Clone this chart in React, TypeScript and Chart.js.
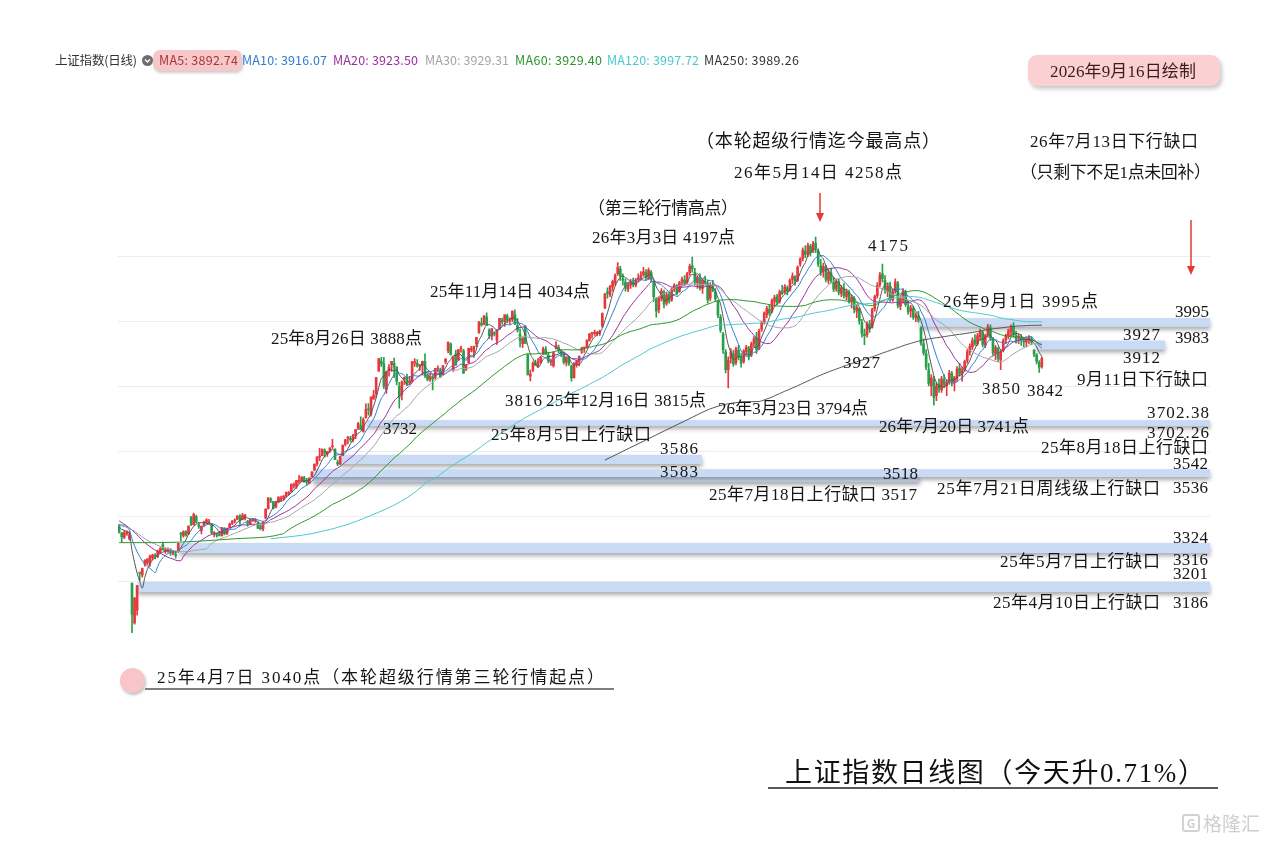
import React, { useEffect, useRef } from 'react';
import { Chart, registerables } from 'chart.js';

Chart.register(...registerables);

// index of the first candle (2025-03-28); 0 = 2025-04-07
const firstIndex = -5;

const opens = [
  3370, 3348, 3334, 3346, 3330,
  3193, 3071, 3110, 3225, 3219, 3252, 3256, 3255, 3272, 3278,
  3276, 3289, 3312, 3290, 3290, 3291, 3283, 3282, 3290, 3345,
  3339, 3351, 3345, 3395, 3373, 3398, 3373, 3355, 3371, 3380,
  3379, 3374, 3345, 3343, 3345, 3340, 3360, 3345, 3365, 3377,
  3385, 3390, 3400, 3390, 3396, 3381, 3376, 3386, 3385, 3379,
  3367, 3361, 3394, 3423, 3453, 3444, 3428, 3443, 3452, 3454,
  3462, 3468, 3474, 3493, 3491, 3506, 3508, 3518, 3505, 3500,
  3520, 3542, 3560, 3581, 3586, 3601, 3591, 3601, 3613, 3606,
  3565, 3561, 3586, 3620, 3639, 3637, 3634, 3647, 3670, 3678,
  3660, 3702, 3730, 3714, 3760, 3776, 3846, 3877, 3869, 3789,
  3847, 3866, 3870, 3858, 3799, 3774, 3822, 3827, 3811, 3815,
  3871, 3870, 3862, 3863, 3876, 3834, 3820, 3828, 3826, 3852,
  3850, 3834, 3874, 3909, 3929, 3850, 3899, 3880, 3914, 3908,
  3852, 3872, 3911, 3905, 3930, 3964, 3993, 3990, 4012, 3972,
  3953, 3962, 3941, 3975, 3999, 3999, 4016, 4000, 4004, 4020,
  3986, 3960, 3930, 3985, 3895, 3830, 3849, 3870, 3862, 3874,
  3897, 3912, 3895, 3875, 3862, 3915, 3918, 3905, 3898, 3873,
  3890, 3862, 3826, 3867, 3875, 3904, 3917, 3920, 3941, 3962,
  3960, 3962, 3962, 3985, 4040, 4090, 4080, 4105, 4118, 4145,
  4160, 4130, 4120, 4098, 4110, 4120, 4110, 4128, 4130, 4142,
  4150, 4130, 4150, 4120, 4068, 4035, 4070, 4088, 4055, 4082,
  4065, 4098, 4108, 4090, 4120, 4126, 4118, 4148, 4170, 4150,
  4118, 4130, 4100, 4122, 4115, 4070, 4108, 4090, 4060, 4012,
  3960, 3905, 3850, 3885, 3900, 3872, 3910, 3885, 3875, 3905,
  3915, 3895, 3930, 3950, 3915, 3975, 3998, 4020, 4035, 4030,
  4060, 4075, 4060, 4092, 4088, 4102, 4095, 4128, 4135, 4125,
  4175, 4192, 4215, 4205, 4230, 4215, 4240, 4215, 4170, 4155,
  4165, 4125, 4148, 4120, 4100, 4120, 4085, 4100, 4075, 4088,
  4060, 4070, 4030, 4038, 3995, 3960, 3958, 3992, 3980, 4038,
  4078, 4112, 4145, 4125, 4090, 4105, 4065, 4092, 4115, 4045,
  4065, 4090, 4045, 4030, 4038, 4010, 4015, 3978, 3930, 3900,
  3850, 3800, 3820, 3770, 3805, 3788, 3820, 3800, 3815, 3838,
  3810, 3822, 3855, 3840, 3850, 3878, 3905, 3920, 3942, 3930,
  3952, 3965, 3925, 3958, 3980, 3945, 3900, 3915, 3880, 3910,
  3942, 3955, 3968, 3982, 3955, 3948, 3950, 3938, 3935, 3940,
  3945, 3910, 3895, 3872, 3860,
];

const highs = [
  3374, 3350, 3355, 3354, 3352,
  3194, 3150, 3187, 3226, 3240, 3266, 3268, 3280, 3283, 3284,
  3295, 3303, 3320, 3302, 3302, 3300, 3292, 3291, 3316, 3350,
  3354, 3355, 3370, 3399, 3409, 3403, 3380, 3370, 3384, 3391,
  3390, 3377, 3352, 3347, 3353, 3365, 3364, 3363, 3378, 3386,
  3391, 3401, 3404, 3408, 3405, 3387, 3389, 3391, 3392, 3383,
  3371, 3382, 3422, 3457, 3456, 3445, 3446, 3459, 3461, 3463,
  3474, 3475, 3498, 3502, 3510, 3525, 3521, 3522, 3516, 3518,
  3537, 3560, 3582, 3608, 3606, 3607, 3599, 3610, 3636, 3607,
  3571, 3584, 3618, 3636, 3645, 3645, 3651, 3666, 3688, 3705,
  3702, 3745, 3746, 3767, 3787, 3826, 3884, 3888, 3888, 3845,
  3866, 3876, 3886, 3859, 3811, 3816, 3828, 3837, 3830, 3876,
  3884, 3881, 3867, 3877, 3899, 3838, 3837, 3832, 3854, 3862,
  3855, 3863, 3884, 3936, 3933, 3890, 3910, 3913, 3923, 3913,
  3865, 3917, 3922, 3923, 3950, 3999, 4010, 4017, 4025, 3976,
  3977, 3965, 3974, 4008, 4009, 4019, 4021, 4010, 4031, 4034,
  4008, 3976, 3949, 3985, 3900, 3849, 3874, 3880, 3885, 3891,
  3920, 3921, 3904, 3883, 3905, 3937, 3926, 3912, 3905, 3890,
  3891, 3864, 3872, 3880, 3893, 3920, 3920, 3942, 3962, 3965,
  3972, 3968, 3972, 4025, 4085, 4102, 4110, 4126, 4145, 4180,
  4168, 4145, 4130, 4118, 4128, 4132, 4131, 4145, 4152, 4165,
  4158, 4163, 4155, 4124, 4072, 4075, 4100, 4095, 4088, 4090,
  4102, 4115, 4112, 4122, 4135, 4140, 4150, 4175, 4197, 4162,
  4140, 4145, 4130, 4138, 4125, 4118, 4125, 4100, 4062, 4020,
  3965, 3912, 3890, 3915, 3910, 3920, 3925, 3900, 3912, 3925,
  3922, 3935, 3952, 3965, 3975, 4000, 4028, 4045, 4050, 4068,
  4080, 4082, 4095, 4110, 4112, 4108, 4130, 4148, 4140, 4170,
  4195, 4225, 4232, 4240, 4236, 4245, 4258, 4222, 4190, 4178,
  4172, 4160, 4162, 4135, 4130, 4128, 4110, 4115, 4098, 4095,
  4080, 4075, 4050, 4040, 4005, 3975, 3998, 4002, 4040, 4080,
  4118, 4150, 4175, 4140, 4115, 4120, 4098, 4130, 4122, 4075,
  4100, 4095, 4062, 4048, 4045, 4025, 4030, 3983, 3945, 3912,
  3870, 3835, 3830, 3810, 3822, 3830, 3835, 3820, 3848, 3845,
  3830, 3860, 3870, 3858, 3880, 3912, 3930, 3948, 3958, 3962,
  3975, 3970, 3960, 3990, 3988, 3950, 3925, 3920, 3910, 3945,
  3960, 3975, 3988, 3995, 3968, 3960, 3958, 3950, 3948, 3955,
  3952, 3912, 3900, 3878, 3890,
];

const lows = [
  3347, 3320, 3330, 3340, 3326,
  3041, 3067, 3095, 3201, 3212, 3246, 3250, 3245, 3265, 3268,
  3272, 3285, 3295, 3285, 3288, 3279, 3280, 3270, 3288, 3324,
  3335, 3338, 3343, 3370, 3372, 3378, 3362, 3345, 3368, 3376,
  3375, 3346, 3336, 3335, 3338, 3338, 3342, 3343, 3364, 3373,
  3379, 3389, 3374, 3388, 3388, 3369, 3373, 3383, 3380, 3361,
  3357, 3354, 3392, 3421, 3441, 3422, 3425, 3440, 3446, 3449,
  3458, 3465, 3474, 3486, 3485, 3500, 3505, 3504, 3495, 3499,
  3520, 3540, 3554, 3570, 3586, 3581, 3583, 3596, 3608, 3573,
  3555, 3558, 3586, 3616, 3622, 3629, 3628, 3638, 3666, 3666,
  3658, 3702, 3710, 3707, 3759, 3765, 3846, 3860, 3792, 3777,
  3830, 3845, 3826, 3803, 3732, 3757, 3804, 3801, 3808, 3812,
  3860, 3858, 3848, 3834, 3826, 3816, 3814, 3788, 3821, 3844,
  3826, 3834, 3868, 3902, 3895, 3845, 3863, 3878, 3904, 3838,
  3847, 3870, 3905, 3888, 3921, 3962, 3984, 3988, 3986, 3946,
  3942, 3954, 3928, 3975, 3990, 3983, 3994, 3990, 3998, 3989,
  3966, 3920, 3918, 3931, 3833, 3816, 3844, 3863, 3858, 3870,
  3897, 3897, 3871, 3863, 3858, 3913, 3902, 3890, 3867, 3862,
  3863, 3815, 3824, 3858, 3862, 3900, 3903, 3917, 3938, 3947,
  3956, 3954, 3956, 3980, 4038, 4070, 4075, 4092, 4110, 4140,
  4125, 4110, 4092, 4090, 4100, 4105, 4105, 4120, 4128, 4138,
  4125, 4128, 4120, 4060, 4012, 4025, 4062, 4040, 4048, 4055,
  4060, 4090, 4080, 4088, 4112, 4110, 4116, 4140, 4150, 4110,
  4100, 4095, 4085, 4110, 4055, 4062, 4090, 4060, 4010, 3965,
  3900, 3840, 3794, 3870, 3860, 3865, 3880, 3858, 3870, 3895,
  3880, 3890, 3920, 3900, 3912, 3968, 3990, 4010, 4018, 4025,
  4045, 4050, 4055, 4080, 4085, 4080, 4092, 4115, 4110, 4122,
  4168, 4185, 4195, 4198, 4200, 4210, 4210, 4168, 4140, 4135,
  4120, 4115, 4118, 4090, 4092, 4080, 4075, 4070, 4065, 4055,
  4040, 4025, 4010, 3990, 3950, 3927, 3950, 3965, 3978, 4030,
  4070, 4105, 4120, 4085, 4075, 4060, 4060, 4085, 4040, 4035,
  4055, 4045, 4020, 4012, 4005, 3998, 3996, 3925, 3895, 3850,
  3800, 3770, 3741, 3755, 3780, 3780, 3795, 3770, 3805, 3800,
  3785, 3815, 3830, 3815, 3845, 3870, 3895, 3912, 3925, 3925,
  3940, 3920, 3918, 3950, 3940, 3895, 3880, 3875, 3850, 3905,
  3930, 3945, 3955, 3950, 3932, 3930, 3925, 3920, 3920, 3930,
  3927, 3890, 3868, 3842, 3855,
];

const closes = [
  3351, 3336, 3348, 3350, 3342,
  3097, 3146, 3186, 3224, 3238, 3263, 3268, 3277, 3280, 3277,
  3291, 3300, 3296, 3297, 3295, 3288, 3287, 3279, 3316, 3343,
  3352, 3342, 3369, 3375, 3404, 3381, 3368, 3368, 3381, 3388,
  3380, 3348, 3347, 3341, 3340, 3364, 3348, 3362, 3376, 3384,
  3385, 3400, 3385, 3402, 3403, 3377, 3389, 3387, 3389, 3362,
  3360, 3382, 3421, 3456, 3449, 3424, 3444, 3458, 3455, 3461,
  3472, 3473, 3498, 3493, 3510, 3510, 3520, 3505, 3504, 3517,
  3535, 3560, 3582, 3582, 3606, 3594, 3598, 3610, 3616, 3573,
  3560, 3583, 3618, 3634, 3640, 3635, 3648, 3666, 3684, 3666,
  3697, 3728, 3727, 3766, 3771, 3826, 3884, 3868, 3800, 3844,
  3858, 3876, 3858, 3814, 3766, 3813, 3827, 3807, 3812, 3875,
  3871, 3861, 3862, 3876, 3832, 3820, 3829, 3822, 3854, 3853,
  3828, 3863, 3883, 3934, 3897, 3890, 3865, 3912, 3916, 3840,
  3864, 3916, 3914, 3922, 3950, 3997, 3988, 4016, 3987, 3955,
  3977, 3960, 3969, 4008, 3998, 4019, 4003, 4000, 4030, 3991,
  3972, 3940, 3947, 3931, 3835, 3837, 3870, 3864, 3875, 3889,
  3914, 3898, 3878, 3876, 3903, 3924, 3910, 3901, 3873, 3889,
  3868, 3825, 3870, 3876, 3891, 3917, 3920, 3941, 3960, 3964,
  3965, 3965, 3969, 4023, 4083, 4085, 4106, 4121, 4140, 4165,
  4138, 4126, 4101, 4112, 4118, 4114, 4125, 4133, 4140, 4151,
  4135, 4157, 4128, 4075, 4030, 4070, 4092, 4052, 4080, 4062,
  4098, 4110, 4086, 4118, 4128, 4116, 4145, 4168, 4160, 4120,
  4135, 4102, 4125, 4118, 4065, 4110, 4095, 4068, 4018, 3972,
  3912, 3850, 3880, 3905, 3868, 3915, 3888, 3870, 3908, 3920,
  3890, 3930, 3945, 3912, 3970, 3995, 4024, 4038, 4025, 4062,
  4072, 4058, 4090, 4085, 4105, 4092, 4126, 4138, 4122, 4165,
  4190, 4218, 4205, 4232, 4210, 4238, 4225, 4175, 4150, 4168,
  4128, 4150, 4125, 4098, 4122, 4088, 4102, 4078, 4090, 4062,
  4072, 4035, 4042, 4000, 3962, 3955, 3990, 3975, 4035, 4075,
  4110, 4142, 4130, 4095, 4108, 4068, 4090, 4120, 4048, 4068,
  4092, 4050, 4028, 4040, 4012, 4018, 4002, 3932, 3902, 3858,
  3808, 3825, 3765, 3800, 3790, 3822, 3805, 3812, 3840, 3812,
  3825, 3852, 3838, 3850, 3875, 3905, 3922, 3940, 3932, 3955,
  3968, 3928, 3955, 3982, 3948, 3902, 3918, 3885, 3905, 3940,
  3955, 3970, 3980, 3958, 3945, 3952, 3940, 3935, 3942, 3950,
  3935, 3898, 3876, 3858, 3885,
];

const ma5Early = [[-5, 3366], [-4, 3359], [-3, 3356], [-2, 3352]];
const ma10Early = [[-5, 3375], [-1, 3357], [0, 3330], [1, 3308], [2, 3290], [3, 3275]];
const ma20Early = [[-5, 3385], [0, 3357], [5, 3318], [10, 3290], [13, 3277]];
const ma30Early = [[-5, 3372], [0, 3358], [5, 3330], [10, 3310], [15, 3296], [20, 3290], [23, 3292]];
const ma60Early = [[-5, 3318], [10, 3318], [25, 3322], [40, 3330], [53, 3336]];
const ma120Early = [[54, 3330], [70, 3346], [90, 3392], [113, 3492]];
const ma250Early = [[184, 3572], [200, 3634], [215, 3692], [228, 3738], [243, 3752]];

// price gaps (index range and price range)
const gapBands = [
  { from: 306.6, to: 419.5, lo: 3982, hi: 4009 },
  { from: 352, to: 402, lo: 3912, hi: 3940 },
  { from: 91.5, to: 419.5, lo: 3677, hi: 3695 },
  { from: 81, to: 221.8, lo: 3560, hi: 3588 },
  { from: 70.5, to: 306.6, lo: 3505, hi: 3523 },
  { from: 70.5, to: 419.5, lo: 3520, hi: 3544 },
  { from: 18.5, to: 419.5, lo: 3286, hi: 3317 },
  { from: 2.3, to: 419.5, lo: 3166, hi: 3197 },
];

const legendTexts = ['MA5: 3892.74', 'MA10: 3916.07', 'MA20: 3923.50', 'MA30: 3929.31', 'MA60: 3929.40', 'MA120: 3997.72', 'MA250: 3989.26'];
const maColors = ['#555555', '#2f7fd0', '#9b2f9b', '#a5a5a5', '#2a962a', '#4cc9cf', '#555555'];
const legendTextColors = ['#a33a36', '#2f7fd0', '#9b2f9b', '#a5a5a5', '#2a962a', '#4cc9cf', '#333333'];
const legendLeft = [159, 242, 333, 425, 515, 607, 704];
const legendWidth = [79, 85, 85, 84, 87, 92, 95];

const annotations = [
  { text: '（本轮超级行情迄今最高点）', x: 696, y: 141, w: 244, size: 18 },
  { text: '26年5月14日 4258点', x: 734, y: 172, w: 168, size: 17 },
  { text: '（第三轮行情高点）', x: 588, y: 208, w: 150, size: 17 },
  { text: '26年3月3日 4197点', x: 592, y: 237, w: 143, size: 17 },
  { text: '26年7月13日下行缺口', x: 1030, y: 141, w: 168, size: 17 },
  { text: '（只剩下不足1点未回补）', x: 1020, y: 172, w: 191, size: 17 },
  { text: '4175', x: 868, y: 245, w: 40, size: 17 },
  { text: '25年11月14日 4034点', x: 430, y: 291, w: 160, size: 17 },
  { text: '25年8月26日 3888点', x: 271, y: 338, w: 151, size: 17 },
  { text: '26年9月1日 3995点', x: 943, y: 301, w: 155, size: 17 },
  { text: '3995', x: 1175, y: 311, w: 34, size: 17 },
  { text: '3927', x: 1123, y: 334, w: 37, size: 17 },
  { text: '3983', x: 1175, y: 337, w: 34, size: 17 },
  { text: '3912', x: 1123, y: 357, w: 37, size: 17 },
  { text: '3927', x: 843, y: 362, w: 37, size: 17 },
  { text: '9月11日下行缺口', x: 1077, y: 379, w: 131, size: 17 },
  { text: '3850', x: 982, y: 388, w: 38, size: 17 },
  { text: '3842', x: 1027, y: 390, w: 36, size: 17 },
  { text: '3816', x: 505, y: 400, w: 37, size: 17 },
  { text: '25年12月16日 3815点', x: 546, y: 400, w: 160, size: 17 },
  { text: '26年3月23日 3794点', x: 718, y: 408, w: 150, size: 17 },
  { text: '3702.38', x: 1147, y: 412, w: 62, size: 17 },
  { text: '3732', x: 383, y: 428, w: 34, size: 17 },
  { text: '25年8月5日上行缺口', x: 491, y: 434, w: 160, size: 17 },
  { text: '26年7月20日 3741点', x: 879, y: 426, w: 150, size: 17 },
  { text: '3702.26', x: 1147, y: 432, w: 62, size: 17 },
  { text: '25年8月18日上行缺口', x: 1041, y: 447, w: 167, size: 17 },
  { text: '3586', x: 660, y: 448, w: 38, size: 17 },
  { text: '3542', x: 1173, y: 463, w: 35, size: 17 },
  { text: '3583', x: 660, y: 471, w: 38, size: 17 },
  { text: '3518', x: 883, y: 473, w: 35, size: 17 },
  { text: '25年7月18日上行缺口 3517', x: 709, y: 494, w: 208, size: 17 },
  { text: '25年7月21日周线级上行缺口', x: 937, y: 488, w: 223, size: 17 },
  { text: '3536', x: 1173, y: 487, w: 35, size: 17 },
  { text: '3324', x: 1173, y: 537, w: 35, size: 17 },
  { text: '25年5月7日上行缺口', x: 1000, y: 561, w: 160, size: 17 },
  { text: '3316', x: 1173, y: 559, w: 35, size: 17 },
  { text: '3201', x: 1173, y: 573, w: 35, size: 17 },
  { text: '25年4月10日上行缺口', x: 993, y: 602, w: 167, size: 17 },
  { text: '3186', x: 1173, y: 602, w: 35, size: 17 },
];

const SERIF = '"Liberation Serif", "Noto Sans CJK SC", serif';
const SANS = '"Noto Sans CJK SC", "Noto Sans", sans-serif';
const upColor = '#e8383d';
const downColor = '#27a04a';

let measureCtx: CanvasRenderingContext2D | null = null;
function spacingFor(text: string, size: number, family: string, target: number) {
  if (!measureCtx) measureCtx = document.createElement('canvas').getContext('2d');
  if (!measureCtx) return 0;
  measureCtx.font = `${size}px ${family}`;
  const w = measureCtx.measureText(text).width;
  const n = Array.from(text).length;
  return n > 1 ? (target - w) / (n - 1) : 0;
}

function movingAverage(n: number, early: number[][]) {
  const pts = early.map(([x, y]) => ({ x, y }));
  let sum = 0;
  for (let k = 0; k < closes.length; k++) {
    sum += closes[k];
    if (k >= n) sum -= closes[k - n];
    if (k >= n - 1) pts.push({ x: firstIndex + k, y: sum / n });
  }
  return pts;
}

function Label({ text, x, y, w, size, family = SERIF, color = '#151515', weight = 400 }: any) {
  const ls = spacingFor(text, size, family, w);
  return (
    <div
      style={{
        position: 'absolute', left: x, top: y, transform: 'translateY(-50%)',
        fontFamily: family, fontSize: size, lineHeight: 1, letterSpacing: ls,
        whiteSpace: 'nowrap', color, fontWeight: weight,
      }}
    >
      {text}
    </div>
  );
}

export default function App() {
  const canvasRef = useRef<HTMLCanvasElement | null>(null);

  useEffect(() => {
    const idx = closes.map((_, k) => firstIndex + k);
    const colors = closes.map((c, k) => (c >= opens[k] ? upColor : downColor));

    const bandPlugin = {
      id: 'gapBands',
      beforeDatasetsDraw(chart: any) {
        const { ctx } = chart;
        const xs = chart.scales.x;
        const ys = chart.scales.y;
        ctx.save();
        gapBands.forEach((b) => {
          const x1 = xs.getPixelForValue(b.from);
          const x2 = xs.getPixelForValue(b.to);
          const y1 = ys.getPixelForValue(b.hi);
          const y2 = ys.getPixelForValue(b.lo);
          ctx.shadowColor = 'rgba(70,70,70,0.45)';
          ctx.shadowBlur = 4;
          ctx.shadowOffsetY = 3;
          ctx.fillStyle = '#c9daf5';
          ctx.fillRect(x1, y1, x2 - x1, y2 - y1);
        });
        ctx.restore();
      },
    };

    const line = (label: string, data: any[], color: string) => ({
      type: 'line', label, data, borderColor: color, borderWidth: 1, pointRadius: 0,
      fill: false, cubicInterpolationMode: 'monotone', order: 0,
    });

    const chart = new Chart(canvasRef.current as HTMLCanvasElement, {
      type: 'bar',
      data: {
        datasets: [
          line('MA250', movingAverage(250, ma250Early), maColors[6]),
          line('MA120', movingAverage(120, ma120Early), maColors[5]),
          line('MA60', movingAverage(60, ma60Early), maColors[4]),
          line('MA30', movingAverage(30, ma30Early), maColors[3]),
          line('MA20', movingAverage(20, ma20Early), maColors[2]),
          line('MA10', movingAverage(10, ma10Early), maColors[1]),
          line('MA5', movingAverage(5, ma5Early), maColors[0]),
          {
            type: 'bar', label: 'wick',
            data: idx.map((i, k) => ({ x: i, y: [lows[k], highs[k]] })),
            backgroundColor: colors, barThickness: 1, grouped: false, order: 2,
          },
          {
            type: 'bar', label: 'body',
            data: idx.map((i, k) => ({ x: i, y: [opens[k], closes[k]] })),
            backgroundColor: colors, barThickness: 2, minBarLength: 1, grouped: false, order: 1,
          },
        ] as any,
      },
      options: {
        animation: false,
        responsive: false,
        devicePixelRatio: 1,
        events: [],
        layout: { padding: { left: 118, right: 63, top: 191, bottom: 165.5 } },
        plugins: { legend: { display: false }, tooltip: { enabled: false } },
        scales: {
          x: { type: 'linear', min: -5.447, max: 419.45, offset: false, display: false, grid: { display: false } },
          y: {
            type: 'linear', min: 2900, max: 4400, display: true,
            border: { display: false },
            ticks: { display: false, stepSize: 200 },
            grid: {
              drawTicks: false,
              color: (c: any) => {
                const v = c.tick ? c.tick.value : 0;
                return v >= 3200 && v <= 4200 && v % 200 === 0 ? '#ececec' : 'rgba(0,0,0,0)';
              },
            },
            afterFit: (s: any) => { s.width = 0; },
          },
        },
      } as any,
      plugins: [bandPlugin],
    } as any);
    return () => chart.destroy();
  }, []);

  return (
    <div style={{ position: 'fixed', left: 0, top: 0, width: 1273, height: 844, background: '#ffffff', overflow: 'hidden' }}>
      <canvas ref={canvasRef} width={1273} height={844} style={{ position: 'absolute', left: 0, top: 0, width: 1273, height: 844 }} />

      {/* top legend */}
      <Label text="上证指数(日线)" x={55} y={60} w={82} size={12.5} family={SANS} color="#333333" />
      <div style={{ position: 'absolute', left: 142, top: 55, width: 11, height: 11, borderRadius: '50%', background: '#6d6d6d' }}>
        <svg width="11" height="11" style={{ position: 'absolute', left: 0, top: 0 }}>
          <polyline points="3,4.5 5.5,7 8,4.5" fill="none" stroke="#fff" strokeWidth="1.4" />
        </svg>
      </div>
      <div style={{ position: 'absolute', left: 153, top: 50, width: 89, height: 21, borderRadius: 7, background: '#f7c7ca', boxShadow: '1px 2px 3px rgba(0,0,0,0.2)' }} />
      {legendTexts.map((t, k) => (
        <Label key={t} text={t} x={legendLeft[k]} y={60} w={legendWidth[k]} size={12.5} family={SANS} color={legendTextColors[k]} />
      ))}

      {/* date box */}
      <div style={{ position: 'absolute', left: 1028, top: 55, width: 192, height: 31, borderRadius: 9, background: '#fbd0d3', boxShadow: '2px 3px 4px rgba(0,0,0,0.22)' }} />
      <Label text="2026年9月16日绘制" x={1050} y={71} w={146} size={17} color="#3a1c1c" />

      {/* annotations */}
      {annotations.map((a, k) => (
        <Label key={k} text={a.text} x={a.x} y={a.y} w={a.w} size={a.size} />
      ))}

      {/* bottom-left note */}
      <div style={{ position: 'absolute', left: 120, top: 668, width: 25, height: 25, borderRadius: '50%', background: '#f8c6c9', boxShadow: '1px 2px 3px rgba(0,0,0,0.25)' }} />
      <Label text="25年4月7日 3040点（本轮超级行情第三轮行情起点）" x={157} y={677} w={447} size={17} />

      {/* title */}
      <Label text="上证指数日线图（今天升0.71%）" x={785} y={773} w={420} size={27} color="#111111" />

      <svg width="1273" height="844" style={{ position: 'absolute', left: 0, top: 0, pointerEvents: 'none' }}>
        <line x1="820" y1="193" x2="820" y2="214" stroke="#e53935" strokeWidth="1.5" />
        <polygon points="816,213 824,213 820,222" fill="#e53935" />
        <line x1="1191" y1="220" x2="1191" y2="267" stroke="#e53935" strokeWidth="1.5" />
        <polygon points="1187,266 1195,266 1191,275" fill="#e53935" />
        <line x1="145" y1="689" x2="614" y2="689" stroke="#555555" strokeWidth="1.5" />
        <line x1="768" y1="788" x2="1218" y2="788" stroke="#222222" strokeWidth="1.5" />
      </svg>

      {/* watermark */}
      <div style={{ position: 'absolute', left: 1182, top: 813, display: 'flex', alignItems: 'center', color: '#cfcfcf', fontFamily: SANS, fontSize: 19, lineHeight: 1 }}>
        <span style={{ display: 'inline-block', width: 18, height: 18, border: '2px solid #d2d2d2', borderRadius: 3, boxSizing: 'border-box', marginRight: 3, fontSize: 12, lineHeight: '14px', textAlign: 'center', fontWeight: 700 }}>G</span>
        格隆汇
      </div>
    </div>
  );
}
